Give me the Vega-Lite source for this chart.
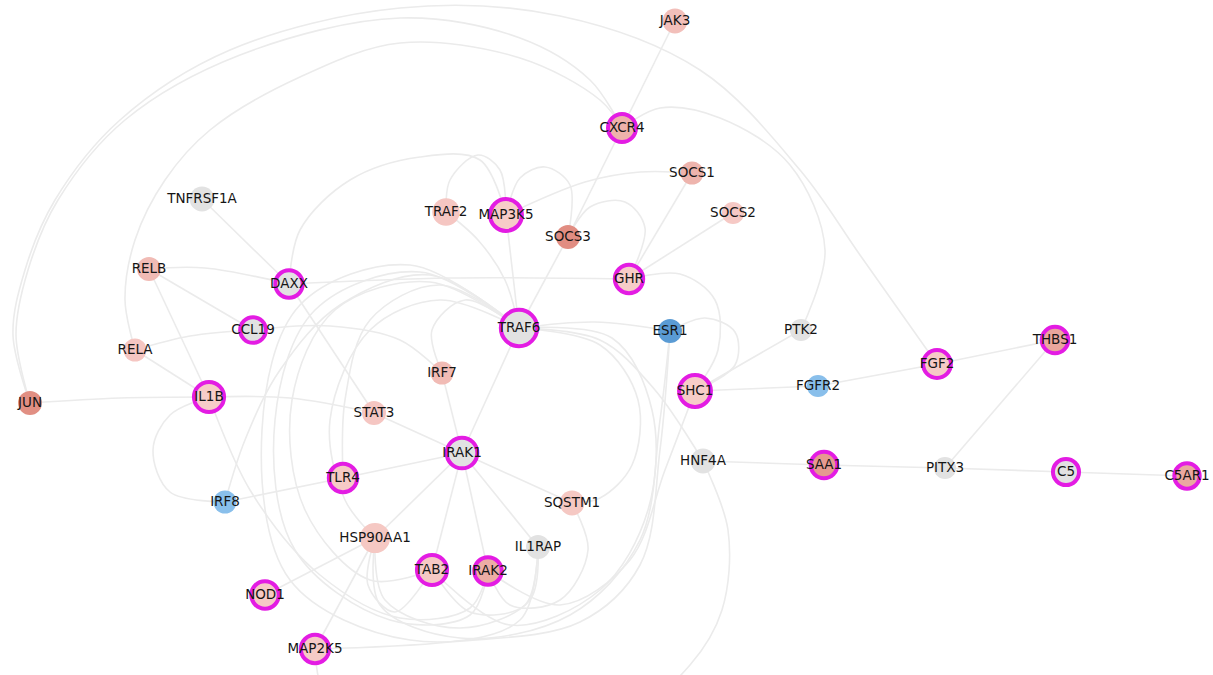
{
  "$schema": "https://vega.github.io/schema/vega-lite/v6.json",
  "width": 1213,
  "height": 675,
  "autosize": {"type": "fit", "contains": "padding"},
  "padding": 0,
  "background": "#ffffff",
  "config": {"view": {"stroke": null}},
  "datasets": {
    "nodes": [
      {"id": "JAK3", "x": 675, "y": 21, "w": 14, "lfc": 1.2, "hub": false},
      {"id": "CXCR4", "x": 622, "y": 128, "w": 15.8, "lfc": 1.65, "hub": true},
      {"id": "TNFRSF1A", "x": 202, "y": 199, "w": 14, "lfc": 0, "hub": false},
      {"id": "TRAF2", "x": 446, "y": 212, "w": 15.5, "lfc": 0.95, "hub": false},
      {"id": "MAP3K5", "x": 506, "y": 215, "w": 18, "lfc": 0.75, "hub": true},
      {"id": "SOCS1", "x": 692, "y": 173, "w": 13, "lfc": 1.6, "hub": false},
      {"id": "SOCS2", "x": 733, "y": 213, "w": 12.5, "lfc": 0.85, "hub": false},
      {"id": "SOCS3", "x": 568, "y": 237, "w": 13.5, "lfc": 2.95, "hub": false},
      {"id": "RELB", "x": 149, "y": 269, "w": 13.5, "lfc": 1.35, "hub": false},
      {"id": "DAXX", "x": 289, "y": 284, "w": 15.5, "lfc": 0, "hub": true},
      {"id": "GHR", "x": 629, "y": 279, "w": 16, "lfc": 0.75, "hub": true},
      {"id": "TRAF6", "x": 519, "y": 328, "w": 20.5, "lfc": 0, "hub": true},
      {"id": "CCL19", "x": 253, "y": 330, "w": 14.5, "lfc": 0, "hub": true},
      {"id": "ESR1", "x": 670, "y": 331, "w": 13.5, "lfc": -3, "hub": false},
      {"id": "PTK2", "x": 801, "y": 330, "w": 12.5, "lfc": 0, "hub": false},
      {"id": "THBS1", "x": 1055, "y": 340, "w": 15, "lfc": 2.1, "hub": true},
      {"id": "RELA", "x": 135, "y": 350, "w": 13, "lfc": 0.95, "hub": false},
      {"id": "FGF2", "x": 937, "y": 364, "w": 15.7, "lfc": 0.8, "hub": true},
      {"id": "IRF7", "x": 442, "y": 373, "w": 13, "lfc": 1.35, "hub": false},
      {"id": "SHC1", "x": 695, "y": 391, "w": 18, "lfc": 0.75, "hub": true},
      {"id": "FGFR2", "x": 818, "y": 386, "w": 12.5, "lfc": -1.5, "hub": false},
      {"id": "JUN", "x": 30, "y": 403, "w": 13.5, "lfc": 2.9, "hub": false},
      {"id": "IL1B", "x": 209, "y": 397, "w": 17, "lfc": 0.75, "hub": true},
      {"id": "STAT3", "x": 374, "y": 413, "w": 13.5, "lfc": 0.95, "hub": false},
      {"id": "IRAK1", "x": 462, "y": 453, "w": 17.3, "lfc": 0, "hub": true},
      {"id": "HNF4A", "x": 703, "y": 461, "w": 14, "lfc": 0, "hub": false},
      {"id": "SAA1", "x": 824, "y": 465, "w": 15, "lfc": 2.5, "hub": true},
      {"id": "PITX3", "x": 945, "y": 468, "w": 12.5, "lfc": 0, "hub": false},
      {"id": "C5", "x": 1066, "y": 472, "w": 14.7, "lfc": 0, "hub": true},
      {"id": "C5AR1", "x": 1187, "y": 476, "w": 14.3, "lfc": 2.0, "hub": true},
      {"id": "TLR4", "x": 343, "y": 478, "w": 16, "lfc": 0.8, "hub": true},
      {"id": "IRF8", "x": 225, "y": 502, "w": 13, "lfc": -1.5, "hub": false},
      {"id": "SQSTM1", "x": 572, "y": 503, "w": 14, "lfc": 0.9, "hub": false},
      {"id": "HSP90AA1", "x": 375, "y": 538, "w": 17, "lfc": 0.9, "hub": false},
      {"id": "IL1RAP", "x": 538, "y": 547, "w": 13.5, "lfc": 0, "hub": false},
      {"id": "TAB2", "x": 432, "y": 570, "w": 17, "lfc": 0.85, "hub": true},
      {"id": "IRAK2", "x": 488, "y": 571, "w": 15.5, "lfc": 1.85, "hub": true},
      {"id": "NOD1", "x": 265, "y": 595, "w": 15.5, "lfc": 0.8, "hub": true},
      {"id": "MAP2K5", "x": 315, "y": 649, "w": 16, "lfc": 0.8, "hub": true}
    ],
    "edges": [
      {"e": 1, "i": 0, "x": 675, "y": 21}, {"e": 1, "i": 1, "x": 622, "y": 128},
      {"e": 2, "i": 0, "x": 622, "y": 128}, {"e": 2, "i": 1, "x": 568, "y": 237},
      {"e": 3, "i": 0, "x": 568, "y": 237}, {"e": 3, "i": 1, "x": 519, "y": 328},
      {"e": 4, "i": 0, "x": 692, "y": 173}, {"e": 4, "i": 1, "x": 629, "y": 279},
      {"e": 5, "i": 0, "x": 733, "y": 213}, {"e": 5, "i": 1, "x": 629, "y": 279},
      {"e": 6, "i": 0, "x": 506, "y": 215}, {"e": 6, "i": 1, "x": 519, "y": 328},
      {"e": 7, "i": 0, "x": 446, "y": 212}, {"e": 7, "i": 1, "x": 478, "y": 240}, {"e": 7, "i": 2, "x": 505, "y": 280}, {"e": 7, "i": 3, "x": 519, "y": 328},
      {"e": 8, "i": 0, "x": 202, "y": 199}, {"e": 8, "i": 1, "x": 289, "y": 284},
      {"e": 9, "i": 0, "x": 149, "y": 269}, {"e": 9, "i": 1, "x": 205, "y": 268}, {"e": 9, "i": 2, "x": 289, "y": 284},
      {"e": 10, "i": 0, "x": 149, "y": 269}, {"e": 10, "i": 1, "x": 253, "y": 330},
      {"e": 11, "i": 0, "x": 149, "y": 269}, {"e": 11, "i": 1, "x": 209, "y": 397},
      {"e": 12, "i": 0, "x": 135, "y": 350}, {"e": 12, "i": 1, "x": 209, "y": 397},
      {"e": 13, "i": 0, "x": 135, "y": 350}, {"e": 13, "i": 1, "x": 190, "y": 336}, {"e": 13, "i": 2, "x": 253, "y": 330},
      {"e": 14, "i": 0, "x": 253, "y": 330}, {"e": 14, "i": 1, "x": 330, "y": 326}, {"e": 14, "i": 2, "x": 400, "y": 340}, {"e": 14, "i": 3, "x": 442, "y": 373},
      {"e": 15, "i": 0, "x": 30, "y": 403}, {"e": 15, "i": 1, "x": 120, "y": 398}, {"e": 15, "i": 2, "x": 209, "y": 397},
      {"e": 16, "i": 0, "x": 209, "y": 397}, {"e": 16, "i": 1, "x": 290, "y": 398}, {"e": 16, "i": 2, "x": 374, "y": 413},
      {"e": 17, "i": 0, "x": 209, "y": 397}, {"e": 17, "i": 1, "x": 170, "y": 415}, {"e": 17, "i": 2, "x": 153, "y": 450}, {"e": 17, "i": 3, "x": 170, "y": 492}, {"e": 17, "i": 4, "x": 225, "y": 502},
      {"e": 18, "i": 0, "x": 225, "y": 502}, {"e": 18, "i": 1, "x": 343, "y": 478},
      {"e": 19, "i": 0, "x": 225, "y": 502}, {"e": 19, "i": 1, "x": 245, "y": 440}, {"e": 19, "i": 2, "x": 280, "y": 370}, {"e": 19, "i": 3, "x": 340, "y": 305}, {"e": 19, "i": 4, "x": 430, "y": 275}, {"e": 19, "i": 5, "x": 519, "y": 328},
      {"e": 20, "i": 0, "x": 209, "y": 397}, {"e": 20, "i": 1, "x": 250, "y": 490}, {"e": 20, "i": 2, "x": 320, "y": 575}, {"e": 20, "i": 3, "x": 400, "y": 618}, {"e": 20, "i": 4, "x": 470, "y": 608}, {"e": 20, "i": 5, "x": 488, "y": 571},
      {"e": 21, "i": 0, "x": 343, "y": 478}, {"e": 21, "i": 1, "x": 462, "y": 453},
      {"e": 22, "i": 0, "x": 374, "y": 413}, {"e": 22, "i": 1, "x": 462, "y": 453},
      {"e": 23, "i": 0, "x": 289, "y": 284}, {"e": 23, "i": 1, "x": 374, "y": 413},
      {"e": 24, "i": 0, "x": 442, "y": 373}, {"e": 24, "i": 1, "x": 462, "y": 453},
      {"e": 25, "i": 0, "x": 519, "y": 328}, {"e": 25, "i": 1, "x": 462, "y": 453},
      {"e": 26, "i": 0, "x": 462, "y": 453}, {"e": 26, "i": 1, "x": 572, "y": 503},
      {"e": 27, "i": 0, "x": 462, "y": 453}, {"e": 27, "i": 1, "x": 538, "y": 547},
      {"e": 28, "i": 0, "x": 462, "y": 453}, {"e": 28, "i": 1, "x": 488, "y": 571},
      {"e": 29, "i": 0, "x": 462, "y": 453}, {"e": 29, "i": 1, "x": 432, "y": 570},
      {"e": 30, "i": 0, "x": 462, "y": 453}, {"e": 30, "i": 1, "x": 375, "y": 538},
      {"e": 31, "i": 0, "x": 375, "y": 538}, {"e": 31, "i": 1, "x": 265, "y": 595},
      {"e": 32, "i": 0, "x": 375, "y": 538}, {"e": 32, "i": 1, "x": 315, "y": 649},
      {"e": 33, "i": 0, "x": 315, "y": 649}, {"e": 33, "i": 1, "x": 450, "y": 642}, {"e": 33, "i": 2, "x": 580, "y": 622}, {"e": 33, "i": 3, "x": 640, "y": 565}, {"e": 33, "i": 4, "x": 660, "y": 450}, {"e": 33, "i": 5, "x": 670, "y": 331},
      {"e": 34, "i": 0, "x": 695, "y": 391}, {"e": 34, "i": 1, "x": 818, "y": 386},
      {"e": 35, "i": 0, "x": 695, "y": 391}, {"e": 35, "i": 1, "x": 801, "y": 330},
      {"e": 36, "i": 0, "x": 818, "y": 386}, {"e": 36, "i": 1, "x": 937, "y": 364},
      {"e": 37, "i": 0, "x": 937, "y": 364}, {"e": 37, "i": 1, "x": 1055, "y": 340},
      {"e": 38, "i": 0, "x": 1055, "y": 340}, {"e": 38, "i": 1, "x": 945, "y": 468},
      {"e": 39, "i": 0, "x": 703, "y": 461}, {"e": 39, "i": 1, "x": 824, "y": 465},
      {"e": 40, "i": 0, "x": 824, "y": 465}, {"e": 40, "i": 1, "x": 945, "y": 468},
      {"e": 41, "i": 0, "x": 945, "y": 468}, {"e": 41, "i": 1, "x": 1066, "y": 472},
      {"e": 42, "i": 0, "x": 1066, "y": 472}, {"e": 42, "i": 1, "x": 1187, "y": 476},
      {"e": 43, "i": 0, "x": 703, "y": 461}, {"e": 43, "i": 1, "x": 728, "y": 530}, {"e": 43, "i": 2, "x": 722, "y": 610}, {"e": 43, "i": 3, "x": 690, "y": 665}, {"e": 43, "i": 4, "x": 620, "y": 720}, {"e": 43, "i": 5, "x": 450, "y": 742}, {"e": 43, "i": 6, "x": 330, "y": 705}, {"e": 43, "i": 7, "x": 315, "y": 649},
      {"e": 44, "i": 0, "x": 519, "y": 328}, {"e": 44, "i": 1, "x": 600, "y": 340}, {"e": 44, "i": 2, "x": 655, "y": 390}, {"e": 44, "i": 3, "x": 703, "y": 461},
      {"e": 45, "i": 0, "x": 629, "y": 279}, {"e": 45, "i": 1, "x": 450, "y": 278}, {"e": 45, "i": 2, "x": 289, "y": 284},
      {"e": 46, "i": 0, "x": 629, "y": 279}, {"e": 46, "i": 1, "x": 680, "y": 274}, {"e": 46, "i": 2, "x": 715, "y": 300}, {"e": 46, "i": 3, "x": 718, "y": 350}, {"e": 46, "i": 4, "x": 695, "y": 391},
      {"e": 47, "i": 0, "x": 670, "y": 331}, {"e": 47, "i": 1, "x": 705, "y": 318}, {"e": 47, "i": 2, "x": 735, "y": 332}, {"e": 47, "i": 3, "x": 735, "y": 365}, {"e": 47, "i": 4, "x": 695, "y": 391},
      {"e": 48, "i": 0, "x": 519, "y": 328}, {"e": 48, "i": 1, "x": 595, "y": 322}, {"e": 48, "i": 2, "x": 670, "y": 331},
      {"e": 49, "i": 0, "x": 622, "y": 128}, {"e": 49, "i": 1, "x": 660, "y": 108}, {"e": 49, "i": 2, "x": 720, "y": 118}, {"e": 49, "i": 3, "x": 790, "y": 165}, {"e": 49, "i": 4, "x": 825, "y": 250}, {"e": 49, "i": 5, "x": 801, "y": 330},
      {"e": 50, "i": 0, "x": 30, "y": 403}, {"e": 50, "i": 1, "x": 13, "y": 335}, {"e": 50, "i": 2, "x": 25, "y": 270}, {"e": 50, "i": 3, "x": 55, "y": 200}, {"e": 50, "i": 4, "x": 120, "y": 120}, {"e": 50, "i": 5, "x": 230, "y": 50}, {"e": 50, "i": 6, "x": 400, "y": 8}, {"e": 50, "i": 7, "x": 560, "y": 16}, {"e": 50, "i": 8, "x": 700, "y": 70}, {"e": 50, "i": 9, "x": 800, "y": 170}, {"e": 50, "i": 10, "x": 860, "y": 255}, {"e": 50, "i": 11, "x": 937, "y": 364},
      {"e": 51, "i": 0, "x": 30, "y": 403}, {"e": 51, "i": 1, "x": 16, "y": 335}, {"e": 51, "i": 2, "x": 28, "y": 270}, {"e": 51, "i": 3, "x": 58, "y": 200}, {"e": 51, "i": 4, "x": 125, "y": 120}, {"e": 51, "i": 5, "x": 240, "y": 55}, {"e": 51, "i": 6, "x": 400, "y": 18}, {"e": 51, "i": 7, "x": 520, "y": 38}, {"e": 51, "i": 8, "x": 590, "y": 80}, {"e": 51, "i": 9, "x": 622, "y": 128},
      {"e": 52, "i": 0, "x": 135, "y": 350}, {"e": 52, "i": 1, "x": 125, "y": 300}, {"e": 52, "i": 2, "x": 135, "y": 240}, {"e": 52, "i": 3, "x": 165, "y": 180}, {"e": 52, "i": 4, "x": 210, "y": 130}, {"e": 52, "i": 5, "x": 300, "y": 77}, {"e": 52, "i": 6, "x": 400, "y": 43}, {"e": 52, "i": 7, "x": 520, "y": 58}, {"e": 52, "i": 8, "x": 600, "y": 100}, {"e": 52, "i": 9, "x": 622, "y": 128},
      {"e": 53, "i": 0, "x": 289, "y": 284}, {"e": 53, "i": 1, "x": 300, "y": 230}, {"e": 53, "i": 2, "x": 350, "y": 180}, {"e": 53, "i": 3, "x": 420, "y": 157}, {"e": 53, "i": 4, "x": 480, "y": 160}, {"e": 53, "i": 5, "x": 506, "y": 215},
      {"e": 54, "i": 0, "x": 446, "y": 212}, {"e": 54, "i": 1, "x": 450, "y": 180}, {"e": 54, "i": 2, "x": 478, "y": 155}, {"e": 54, "i": 3, "x": 500, "y": 170}, {"e": 54, "i": 4, "x": 506, "y": 215},
      {"e": 55, "i": 0, "x": 506, "y": 215}, {"e": 55, "i": 1, "x": 520, "y": 178}, {"e": 55, "i": 2, "x": 545, "y": 167}, {"e": 55, "i": 3, "x": 570, "y": 185}, {"e": 55, "i": 4, "x": 568, "y": 237},
      {"e": 56, "i": 0, "x": 568, "y": 237}, {"e": 56, "i": 1, "x": 590, "y": 207}, {"e": 56, "i": 2, "x": 625, "y": 202}, {"e": 56, "i": 3, "x": 645, "y": 228}, {"e": 56, "i": 4, "x": 629, "y": 279},
      {"e": 57, "i": 0, "x": 692, "y": 173}, {"e": 57, "i": 1, "x": 640, "y": 172}, {"e": 57, "i": 2, "x": 585, "y": 182}, {"e": 57, "i": 3, "x": 506, "y": 215},
      {"e": 58, "i": 0, "x": 519, "y": 328}, {"e": 58, "i": 1, "x": 440, "y": 285}, {"e": 58, "i": 2, "x": 370, "y": 320}, {"e": 58, "i": 3, "x": 345, "y": 400}, {"e": 58, "i": 4, "x": 343, "y": 478},
      {"e": 59, "i": 0, "x": 519, "y": 328}, {"e": 59, "i": 1, "x": 465, "y": 300}, {"e": 59, "i": 2, "x": 432, "y": 330}, {"e": 59, "i": 3, "x": 442, "y": 373},
      {"e": 60, "i": 0, "x": 519, "y": 328}, {"e": 60, "i": 1, "x": 430, "y": 282}, {"e": 60, "i": 2, "x": 335, "y": 310}, {"e": 60, "i": 3, "x": 292, "y": 400}, {"e": 60, "i": 4, "x": 305, "y": 510}, {"e": 60, "i": 5, "x": 370, "y": 580}, {"e": 60, "i": 6, "x": 432, "y": 570},
      {"e": 61, "i": 0, "x": 519, "y": 328}, {"e": 61, "i": 1, "x": 420, "y": 272}, {"e": 61, "i": 2, "x": 315, "y": 310}, {"e": 61, "i": 3, "x": 275, "y": 420}, {"e": 61, "i": 4, "x": 295, "y": 550}, {"e": 61, "i": 5, "x": 390, "y": 620}, {"e": 61, "i": 6, "x": 470, "y": 615}, {"e": 61, "i": 7, "x": 488, "y": 571},
      {"e": 62, "i": 0, "x": 519, "y": 328}, {"e": 62, "i": 1, "x": 410, "y": 265}, {"e": 62, "i": 2, "x": 300, "y": 305}, {"e": 62, "i": 3, "x": 262, "y": 430}, {"e": 62, "i": 4, "x": 290, "y": 580}, {"e": 62, "i": 5, "x": 410, "y": 640}, {"e": 62, "i": 6, "x": 520, "y": 620}, {"e": 62, "i": 7, "x": 538, "y": 547},
      {"e": 63, "i": 0, "x": 519, "y": 328}, {"e": 63, "i": 1, "x": 440, "y": 300}, {"e": 63, "i": 2, "x": 370, "y": 330}, {"e": 63, "i": 3, "x": 330, "y": 420}, {"e": 63, "i": 4, "x": 345, "y": 500}, {"e": 63, "i": 5, "x": 375, "y": 538},
      {"e": 64, "i": 0, "x": 519, "y": 328}, {"e": 64, "i": 1, "x": 600, "y": 345}, {"e": 64, "i": 2, "x": 638, "y": 400}, {"e": 64, "i": 3, "x": 632, "y": 465}, {"e": 64, "i": 4, "x": 600, "y": 498}, {"e": 64, "i": 5, "x": 572, "y": 503},
      {"e": 65, "i": 0, "x": 519, "y": 328}, {"e": 65, "i": 1, "x": 612, "y": 338}, {"e": 65, "i": 2, "x": 652, "y": 410}, {"e": 65, "i": 3, "x": 648, "y": 510}, {"e": 65, "i": 4, "x": 600, "y": 590}, {"e": 65, "i": 5, "x": 510, "y": 625}, {"e": 65, "i": 6, "x": 432, "y": 570},
      {"e": 66, "i": 0, "x": 670, "y": 331}, {"e": 66, "i": 1, "x": 660, "y": 420}, {"e": 66, "i": 2, "x": 640, "y": 540}, {"e": 66, "i": 3, "x": 570, "y": 615}, {"e": 66, "i": 4, "x": 460, "y": 638}, {"e": 66, "i": 5, "x": 380, "y": 605}, {"e": 66, "i": 6, "x": 375, "y": 538},
      {"e": 67, "i": 0, "x": 695, "y": 391}, {"e": 67, "i": 1, "x": 665, "y": 470}, {"e": 67, "i": 2, "x": 630, "y": 560}, {"e": 67, "i": 3, "x": 560, "y": 605}, {"e": 67, "i": 4, "x": 488, "y": 571},
      {"e": 68, "i": 0, "x": 375, "y": 538}, {"e": 68, "i": 1, "x": 385, "y": 600}, {"e": 68, "i": 2, "x": 460, "y": 628}, {"e": 68, "i": 3, "x": 530, "y": 600}, {"e": 68, "i": 4, "x": 538, "y": 547},
      {"e": 69, "i": 0, "x": 432, "y": 570}, {"e": 69, "i": 1, "x": 470, "y": 612}, {"e": 69, "i": 2, "x": 525, "y": 605}, {"e": 69, "i": 3, "x": 538, "y": 547},
      {"e": 70, "i": 0, "x": 572, "y": 503}, {"e": 70, "i": 1, "x": 588, "y": 550}, {"e": 70, "i": 2, "x": 560, "y": 600}, {"e": 70, "i": 3, "x": 510, "y": 605}, {"e": 70, "i": 4, "x": 488, "y": 571},
      {"e": 71, "i": 0, "x": 375, "y": 538}, {"e": 71, "i": 1, "x": 368, "y": 585}, {"e": 71, "i": 2, "x": 395, "y": 612}, {"e": 71, "i": 3, "x": 432, "y": 570}
    ]
  },
  "layer": [
    {
      "data": {"name": "edges"},
      "mark": {"type": "line", "interpolate": "catmull-rom", "stroke": "#ebebeb", "strokeWidth": 1.6, "clip": true},
      "encoding": {
        "x": {"field": "x", "type": "quantitative", "scale": {"domain": [0, 1213], "nice": false, "zero": false}, "axis": null},
        "y": {"field": "y", "type": "quantitative", "scale": {"domain": [0, 675], "nice": false, "zero": false, "reverse": true}, "axis": null},
        "detail": {"field": "e", "type": "nominal"},
        "order": {"field": "i", "type": "quantitative"}
      }
    },
    {
      "data": {"name": "nodes"},
      "mark": {"type": "point", "shape": "circle", "filled": true, "opacity": 1, "strokeOpacity": 1, "fillOpacity": 1},
      "encoding": {
        "x": {"field": "x", "type": "quantitative"},
        "y": {"field": "y", "type": "quantitative"},
        "size": {"field": "w", "type": "quantitative", "scale": {"type": "pow", "exponent": 2, "domain": [0, 20], "range": [0, 1256.64]}, "legend": null},
        "fill": {"field": "lfc", "type": "quantitative", "scale": {"domain": [-3, -1.5, 0, 0.5, 3], "range": ["#5a9bd4", "#89bfeb", "#e2e2e2", "#f9d3d0", "#e08c80"], "interpolate": "rgb"}, "legend": null},
        "stroke": {"value": "#e31ce3"},
        "strokeWidth": {"condition": {"test": "datum.hub", "value": 4}, "value": 0}
      }
    },
    {
      "data": {"name": "nodes"},
      "mark": {"type": "text", "font": "DejaVu Sans", "fontSize": 13.5, "color": "#151515", "align": "center", "baseline": "middle"},
      "encoding": {
        "x": {"field": "x", "type": "quantitative"},
        "y": {"field": "y", "type": "quantitative"},
        "text": {"field": "id", "type": "nominal"}
      }
    }
  ]
}
